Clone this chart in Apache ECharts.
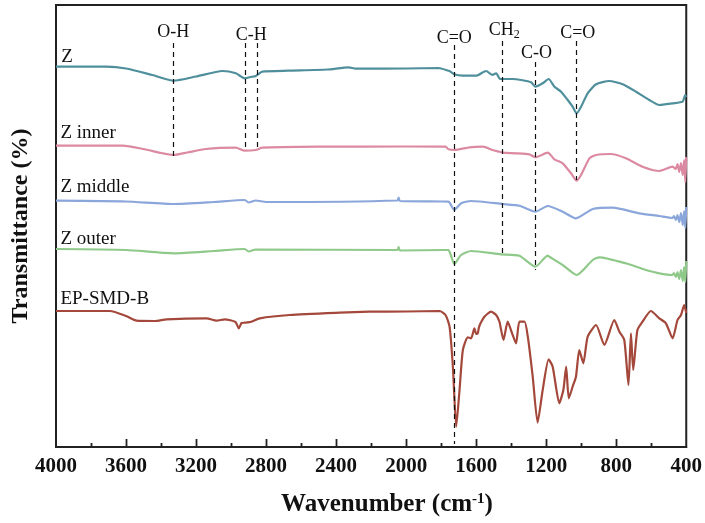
<!DOCTYPE html>
<html>
<head>
<meta charset="utf-8">
<script src="https://cdn.jsdelivr.net/npm/echarts@6/dist/echarts.min.js"></script>
<style>html,body{margin:0;padding:0;background:#fff}#c{width:705px;height:523px}</style>
</head>
<body>
<div id="c"></div>
<script>
// ---- data: [wavenumber (cm-1), transmittance with vertical offset] ----
const seriesNames = ['Z', 'Z inner', 'Z middle', 'Z outer', 'EP-SMD-B'];
const seriesColors = ['#4f8f9c', '#dc8aa2', '#8ba6da', '#8fc98a', '#a3483a'];

const zData = [[4000,380.3],[3715,380.3],[3600,378.5],[3450,372],[3327,366.3],[3200,370.5],[3049,376],[2973,373.7],[2922,368.7],[2890,370],[2859,371],[2821,375.3],[2671,376.3],[2450,377.5],[2328,379.7],[2288,378.3],[2000,378.5],[1815,379],[1758,376.3],[1752,376],[1725,372.7],[1678,371.3],[1600,371.3],[1543,376],[1507,372],[1486,373.7],[1463,368],[1448,368],[1391,368],[1343,367],[1286,364.7],[1262,360.3],[1220,363.7],[1186,368],[1153,360.3],[1115,355.3],[1077,347],[1049,340.3],[1026,333.7],[1001,340.3],[963,353.7],[915,362.7],[840,366],[763,362.7],[687,355.3],[611,347],[554,342],[478,343.7],[421,345.3],[406,352],[400,350]];

const zInnerData = [[4000,301.3],[3620,301.3],[3500,298],[3400,294],[3327,292],[3250,294.5],[3144,298],[2973,299.3],[2922,296.3],[2859,297],[2821,299.3],[2500,300.3],[2000,300.5],[1775,300.3],[1758,297.7],[1725,297],[1638,299.7],[1562,300.3],[1505,297],[1467,295.3],[1448,294.3],[1372,293.7],[1296,292.7],[1262,289.7],[1191,294.3],[1153,287.7],[1106,283.7],[1058,273.7],[1026,266.3],[1001,272],[953,288.7],[915,292],[830,293],[745,288.7],[650,280.3],[554,276],[478,280.3],[460,278],[450,283],[440,275],[430,284],[420,272],[412,287],[405,265],[400,290]];

const zMiddleData = [[4000,246.3],[3600,245.5],[3327,243],[3100,245],[2922,247],[2900,244.5],[2859,246.5],[2800,245],[2050,246.5],[2043,249.5],[2036,246],[1800,245.5],[1758,245.3],[1725,237],[1686,243.7],[1629,246],[1448,243],[1353,241.3],[1262,235.3],[1191,241],[1106,235.3],[1030,228.7],[934,238],[820,239.3],[668,233.7],[554,231],[480,229],[470,231],[459,227],[450,232],[440,225],[430,234],[420,222],[412,236],[405,219],[400,240]];

const zOuterData = [[4000,198],[3600,197],[3327,193.7],[3100,196],[2922,198],[2900,195.5],[2859,197.5],[2050,197],[2043,200],[2036,196.5],[1780,197],[1758,197],[1745,192],[1725,183],[1686,192],[1629,196],[1458,192.7],[1353,191.3],[1262,180.3],[1191,191.3],[1182,190.3],[1106,182],[1026,172],[934,187],[896,189.7],[745,183.7],[631,177],[554,173.7],[480,172],[470,174],[459,170],[450,175],[440,168],[430,177],[420,166],[412,180],[405,165],[400,186]];

const epData = [[4000,136],[3692,136],[3600,131],[3540,126.3],[3435,126],[3369,127.7],[3140,128.7],[3083,126.3],[3036,127.7],[2975,125],[2956,118.7],[2940,124],[2922,124.3],[2884,125.3],[2836,128.7],[2665,132],[2380,134.3],[2209,135.3],[2000,135.5],[1809,136],[1775,132],[1752,120.3],[1733,80.3],[1714,20.3],[1695,57],[1676,97],[1648,109.7],[1629,108.7],[1610,118.7],[1600,113],[1591,113.7],[1585,119],[1577,123],[1553,130.3],[1515,135.3],[1486,132],[1467,125.3],[1444,107],[1420,125.3],[1395,113.7],[1372,103.7],[1353,125.3],[1324,125.3],[1305,110.3],[1277,70.3],[1249,24.3],[1220,57],[1186,87.7],[1163,80.3],[1125,43.7],[1102,57],[1086,80.3],[1071,48.7],[1049,60.3],[1030,70.3],[1011,97],[988,83.7],[963,110.3],[915,122],[868,102],[811,127],[782,115.3],[754,107],[730,62],[716,113.7],[703,77],[679,117],[650,125.3],[602,136],[554,128.7],[516,123.7],[478,108.7],[450,127],[430,132],[412,142],[400,134]];

const allData = [zData, zInnerData, zMiddleData, zOuterData, epData];
// series name labels: [wavenumber, level]
const nameLabelPos = [[3970,390],[3975,314],[3975,260.3],[3975,208],[3975,148]];

// band markers: wavenumber, line top, line bottom
const bandX = [3330, 2920, 2850, 1725, 1450, 1260, 1030];
const bandTop = [404, 404, 404, 402, 406, 385, 406];
const bandBottom = [288, 296, 296, 3, 192, 177, 267];
// band labels
const bandLabels = ['O-H', 'C-H', 'C=O', '{a|CH}{s|2}', 'C-O', 'C=O'];
const bandLabelPos = [[3330,415],[2885,412],[1725,409],[1440,417],[1255,394],[1020,414]];

// x axis ticks
const xTicks = {min: 400, max: 4000, interval: 400};
const majorTickValues = [800, 1200, 1600, 2000, 2400, 2800, 3200, 3600];
const minorTickValues = [600, 1000, 1400, 1800, 2200, 2600, 3000, 3400, 3800];

const chart = echarts.init(document.getElementById('c'), null, {renderer: 'canvas'});
const serif = '"Times New Roman", "Liberation Serif", serif';

const series = allData.map((d, i) => ({
  name: seriesNames[i],
  type: 'line',
  data: d,
  showSymbol: false,
  symbol: 'none',
  smooth: 0.2,
  lineStyle: {color: seriesColors[i], width: 2.2},
  z: 3
}));

series.push({
  type: 'line',
  data: [],
  markLine: {
    silent: true,
    symbol: 'none',
    label: {show: false},
    lineStyle: {color: '#111', type: [5, 4], width: 1.2},
    data: bandX.map((x, i) => [{coord: [x, bandTop[i]]}, {coord: [x, bandBottom[i]]}])
  },
  z: 2
});

chart.setOption({
  animation: false,
  grid: {left: 56, right: 18, top: 5, bottom: 76, show: true, borderColor: '#222', borderWidth: 2, backgroundColor: 'transparent'},
  xAxis: {
    type: 'value',
    inverse: true,
    min: xTicks.min, max: xTicks.max, interval: xTicks.interval,
    axisLine: {show: true, lineStyle: {color: '#222', width: 2}},
    axisTick: {show: false},
    minorTick: {show: false},
    splitLine: {show: false},
    axisLabel: {color: '#111', fontFamily: serif, fontWeight: 'bold', fontSize: 21, margin: 9, formatter: v => String(v)},
    z: 5
  },
  yAxis: {
    type: 'value',
    min: 0, max: 442,
    axisLine: {show: true, lineStyle: {color: '#222', width: 2}},
    axisTick: {show: false},
    axisLabel: {show: false},
    splitLine: {show: false},
    name: 'Transmittance (%)',
    nameLocation: 'middle',
    nameGap: 23,
    nameTextStyle: {fontFamily: serif, fontWeight: 'bold', fontSize: 24, color: '#111'}
  },
  series: series
});

const graphics = [];
// inward ticks placed through the axis scale
const tickLine = (v, len) => {
  const p = chart.convertToPixel({gridIndex: 0}, [v, 0]);
  return {type: 'line', silent: true, z: 10,
    shape: {x1: Math.round(p[0]) + 0.5, y1: p[1], x2: Math.round(p[0]) + 0.5, y2: p[1] - len},
    style: {stroke: '#222', lineWidth: 1.8}};
};
majorTickValues.forEach(v => graphics.push(tickLine(v, 8)));
minorTickValues.forEach(v => graphics.push(tickLine(v, 4)));

nameLabelPos.forEach((p, i) => {
  const px = chart.convertToPixel({gridIndex: 0}, p);
  graphics.push({
    type: 'text', x: px[0], y: px[1], silent: true,
    style: {text: seriesNames[i], fontFamily: serif, fontSize: 19, fill: '#111', align: 'left', verticalAlign: 'middle'}
  });
});
bandLabelPos.forEach((p, i) => {
  const px = chart.convertToPixel({gridIndex: 0}, p);
  graphics.push({
    type: 'text', x: px[0], y: px[1], silent: true,
    style: {
      text: bandLabels[i], fontFamily: serif, fontSize: 18, fill: '#111', align: 'center', verticalAlign: 'middle',
      rich: {
        a: {fontFamily: serif, fontSize: 18, fill: '#111'},
        s: {fontFamily: serif, fontSize: 12, fill: '#111', verticalAlign: 'bottom', padding: [9, 0, 0, 0]}
      }
    }
  });
});
// x axis title
graphics.push({
  type: 'text', x: 387, y: 505, silent: true,
  style: {
    text: '{b|Wavenumber (cm}{sup|-1}{b|)}', align: 'center', verticalAlign: 'middle',
    rich: {
      b: {fontFamily: serif, fontWeight: 'bold', fontSize: 25, fill: '#111'},
      sup: {fontFamily: serif, fontWeight: 'bold', fontSize: 15, fill: '#111', verticalAlign: 'top', padding: [0, 0, 12, 0]}
    }
  }
});
chart.setOption({graphic: graphics});
</script>
</body>
</html>
